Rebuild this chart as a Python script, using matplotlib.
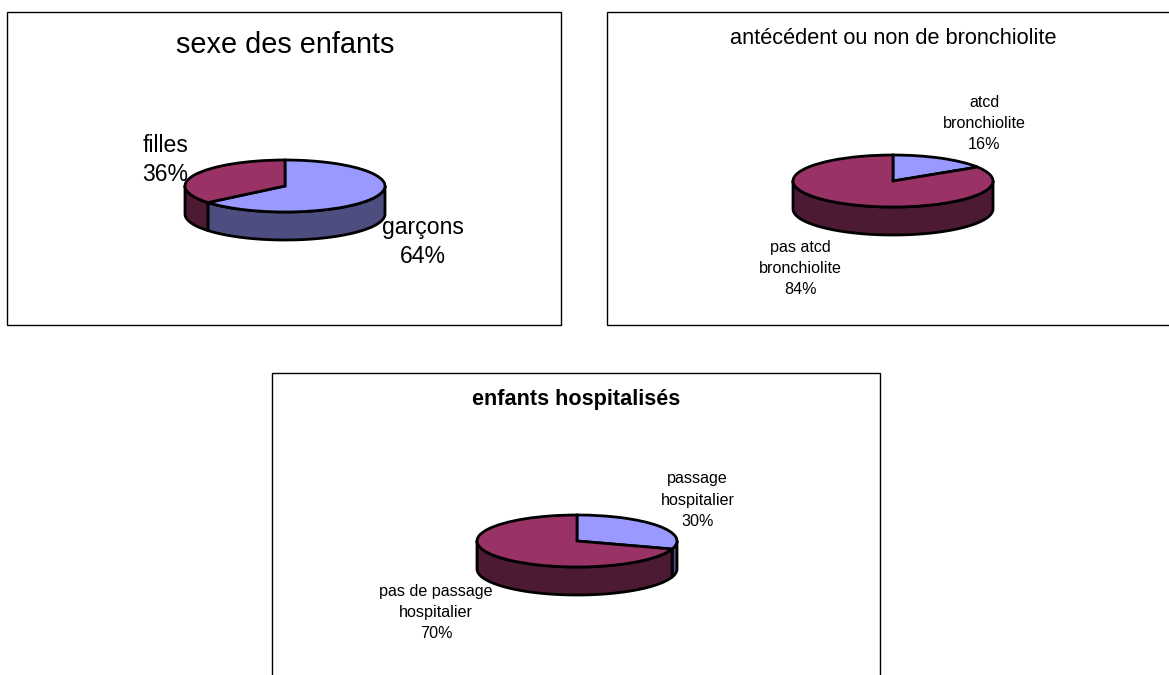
import numpy as np
import matplotlib
matplotlib.use("Agg")
import matplotlib.pyplot as plt
from matplotlib.patches import Polygon, Rectangle

plt.rcParams['font.family'] = ['Liberation Sans', 'DejaVu Sans']

W, H = 1169, 675
BLUE, BLUE_DARK = '#9999FF', '#4D4D80'
RED, RED_DARK = '#993366', '#4D1A33'

values_sexe = [64, 36]
values_atcd = [16, 84]
values_hosp = [30, 70]
labels_sexe = ['garçons\n64%', 'filles\n36%']
labels_atcd = ['atcd\nbronchiolite\n16%', 'pas atcd\nbronchiolite\n84%']
labels_hosp = ['passage\nhospitalier\n30%', 'pas de passage\nhospitalier\n70%']
titles = ['sexe des enfants', 'antécédent ou non de bronchiolite', 'enfants hospitalisés']

fig = plt.figure(figsize=(W / 100, H / 100), dpi=100, facecolor='white')
bg = fig.add_axes([0, 0, 1, 1], zorder=0)
bg.set_xlim(0, W)
bg.set_ylim(H, 0)
bg.axis('off')
top = fig.add_axes([0, 0, 1, 1], zorder=5)
top.set_xlim(0, W)
top.set_ylim(H, 0)
top.axis('off')
top.patch.set_alpha(0)


def pie3d(values, cx, cy, rx=100, ry=26, depth=28):
    ax = fig.add_axes([(cx - rx) / W, 1 - (cy + ry) / H, 2 * rx / W, 2 * ry / H], zorder=2)
    ax.pie(values, colors=[BLUE, RED], startangle=90, counterclock=False, radius=1,
           wedgeprops=dict(edgecolor='black', linewidth=2.0, clip_on=False))
    ax.set_aspect('auto')
    ax.set_xlim(-1, 1)
    ax.set_ylim(-1, 1)
    ax.axis('off')
    ax.patch.set_alpha(0)
    d = depth / ry
    a0 = 90.0
    for v, col in zip(values, [BLUE_DARK, RED_DARK]):
        a1 = a0 - 360 * v / sum(values)
        # keep only the part of this slice's rim on the front (lower) half
        lo, hi = a1, a0
        for shift in (0, -360):
            l, h = max(lo, -180 + shift), min(hi, 0 + shift)
            if h > l:
                t = np.radians(np.linspace(l, h, 100))
                x, y = np.cos(t), np.sin(t)
                pts = np.r_[np.c_[x, y], np.c_[x[::-1], y[::-1] - d]]
                ax.add_patch(Polygon(pts, closed=True, facecolor=col, edgecolor='black',
                                     linewidth=2.0, zorder=0.5, clip_on=False, joinstyle='round'))
        a0 = a1


def frame(x0, y0, x1, y1):
    bg.add_patch(Rectangle((x0, y0), x1 - x0, y1 - y0, facecolor='white',
                           edgecolor='black', linewidth=1.0, clip_on=True))


frame(7, 12, 561, 325)
frame(607, 12, 1175, 325)
frame(272, 373, 880, 690)

pie3d(values_sexe, 285, 186)
pie3d(values_atcd, 893, 181)
pie3d(values_hosp, 577, 541)

top.text(285.5, 45, titles[0], fontsize=20.8, ha='center', va='center')
top.text(893, 38, titles[1], fontsize=15.7, ha='center', va='center')
top.text(576.5, 400, titles[2], fontsize=15.6, fontweight='bold', ha='center', va='center')

big = dict(fontsize=16.6, ha='center', va='center', linespacing=1.29)
small = dict(fontsize=11.6, ha='center', va='center', linespacing=1.52)
top.text(423, 242, labels_sexe[0], **big)
top.text(165.5, 160, labels_sexe[1], **big)
top.text(984, 123.5, labels_atcd[0], **small)
top.text(800.5, 268.5, labels_atcd[1], **small)
top.text(697.5, 500, labels_hosp[0], **small)
top.text(436, 612.5, labels_hosp[1], **small)

fig.savefig('out.png', dpi=100, facecolor='white')
